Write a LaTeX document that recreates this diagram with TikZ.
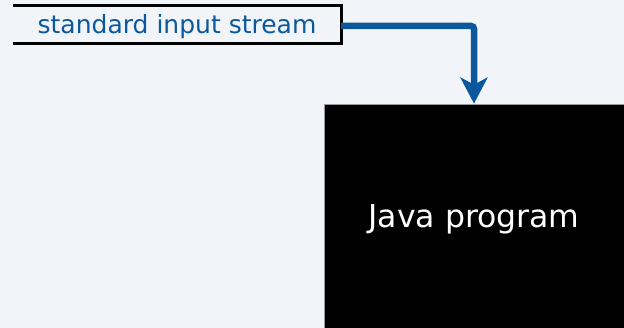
\documentclass[tikz,border=0pt]{standalone}
\usepackage{fontspec}
\setmainfont{DejaVu Sans}
\usetikzlibrary{arrows.meta}
\definecolor{bg}{RGB}{241,245,249}
\definecolor{sblue}{RGB}{12,88,156}
\begin{document}
\begin{tikzpicture}[x=1pt,y=-1pt,
  labelbox/.style={inner sep=0pt, minimum width=328pt, minimum height=37pt, text depth=0pt, text=sblue, font=\fontsize{25}{30}\selectfont},
  progbox/.style={fill=black, draw=black!40, line width=0.8pt, inner sep=0pt, minimum width=300pt, minimum height=224pt, text depth=0pt, text=white, font=\fontsize{31.5}{36}\selectfont},
  flow/.style={draw=sblue, line width=6.5pt, rounded corners=3pt, -{Stealth[length=26pt, width=27pt, inset=7pt]}}]
\fill[bg] (0,0) rectangle (624,328);
\useasboundingbox (0,0) rectangle (624,328);
\node[labelbox] (lbl) at (177,24.5) {standard input stream};
\draw[line width=3pt, line cap=butt, line join=miter] (lbl.north west) -- (lbl.north east) -- (lbl.south east) -- (lbl.south west);
\node[progbox] (java) at (474,216) {Java program};
\draw[flow] ([yshift=-1.5pt]lbl.east) -| (java.north);
\end{tikzpicture}
\end{document}
